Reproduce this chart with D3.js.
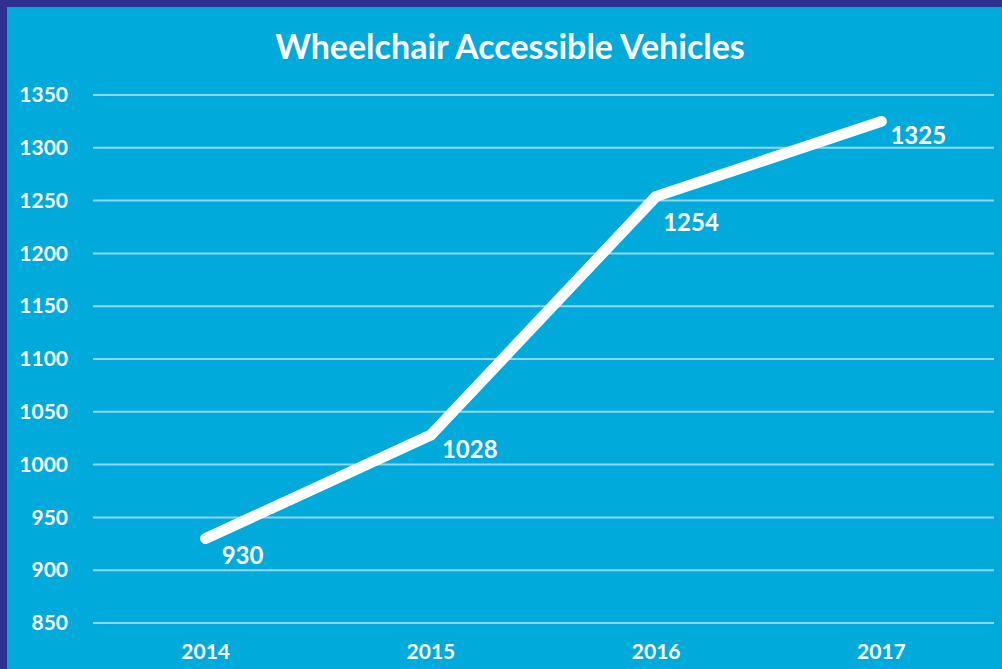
<!DOCTYPE html>
<html>
<head>
<meta charset="utf-8">
<script src="https://cdn.jsdelivr.net/npm/d3@7"></script>
<style>
  html, body { margin: 0; padding: 0; background: #2e3192; }
  svg { display: block; }
</style>
</head>
<body>
<svg id="chart-svg"></svg>
<script>
// Data
const years = ["2014", "2015", "2016", "2017"];
const vehicles = [930, 1028, 1254, 1325];
const yTicks = [850, 900, 950, 1000, 1050, 1100, 1150, 1200, 1250, 1300, 1350];

const W = 1002, H = 669;
const font = "Lato, 'Open Sans', sans-serif";

const svg = d3.select("#chart-svg").attr("width", W).attr("height", H);

// blå baggrund med mørk kant foroven og til venstre
svg.append("rect").attr("width", W).attr("height", H).attr("fill", "#2e3192");
svg.append("rect").attr("x", 7).attr("y", 7).attr("width", W - 7).attr("height", H - 7).attr("fill", "#00aadb");

const margin = { top: 95, right: 8, bottom: 46, left: 93 };
const width = W - margin.left - margin.right;

const x = d3.scaleBand().domain(years).range([margin.left, margin.left + width]);
const y = d3.scaleLinear().domain([850, 1350]).range([623, 95]);

// titel
svg.append("text")
  .attr("x", 510).attr("y", 59)
  .attr("text-anchor", "middle")
  .attr("font-family", font).attr("font-weight", "bold").attr("font-size", 34)
  .attr("fill", "#fff")
  .text("Wheelchair Accessible Vehicles");

// gridlines
svg.selectAll(".grid-line")
  .data(yTicks)
  .enter()
  .append("line")
  .attr("class", "grid-line")
  .attr("x1", margin.left).attr("x2", margin.left + width)
  .attr("y1", d => y(d)).attr("y2", d => y(d))
  .attr("stroke", "#8fd6f0").attr("stroke-width", 2);

// y akse
const yAxis = svg.append("g")
  .attr("transform", "translate(68,0)")
  .call(d3.axisLeft(y).tickValues(yTicks).tickFormat(d3.format("d")).tickSize(0).tickPadding(0));
yAxis.select(".domain").remove();
yAxis.selectAll("text")
  .attr("fill", "#fff").attr("font-family", font).attr("font-weight", "bold").attr("font-size", 21);

// x akse
const xAxis = svg.append("g")
  .attr("transform", "translate(0,644)")
  .call(d3.axisBottom(x).tickSize(0).tickPadding(0));
xAxis.select(".domain").remove();
xAxis.selectAll("text")
  .attr("fill", "#fff").attr("font-family", font).attr("font-weight", "bold").attr("font-size", 21);

// linjen
const pts = years.map((yr, i) => ({ year: yr, value: vehicles[i] }));
const line = d3.line()
  .x(d => x(d.year) + x.bandwidth() / 2)
  .y(d => y(d.value));

svg.append("path")
  .datum(pts)
  .attr("d", line)
  .attr("fill", "none")
  .attr("stroke", "#fff")
  .attr("stroke-width", 11)
  .attr("stroke-linecap", "round")
  .attr("stroke-linejoin", "round");

// dataetiketter
const labelOffset = [[16, 25], [11, 23], [7, 35], [9, 23]];
svg.selectAll(".label")
  .data(pts)
  .enter()
  .append("text")
  .attr("class", "label")
  .attr("x", (d, i) => x(d.year) + x.bandwidth() / 2 + labelOffset[i][0])
  .attr("y", (d, i) => y(d.value) + labelOffset[i][1])
  .attr("fill", "#fff").attr("font-family", font).attr("font-weight", "bold").attr("font-size", 24)
  .text(d => d.value);
</script>
</body>
</html>
